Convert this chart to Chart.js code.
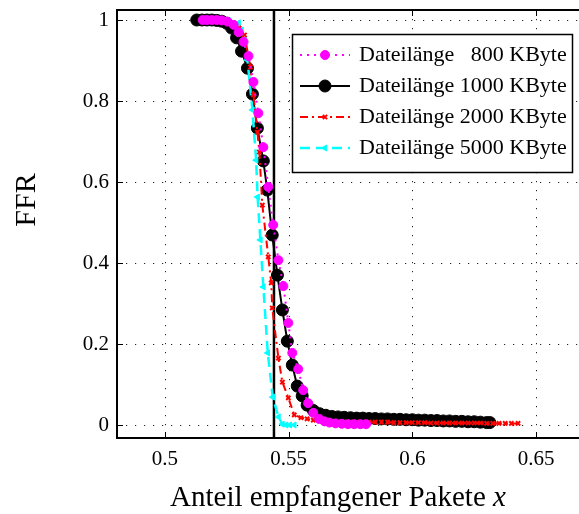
<!DOCTYPE html>
<html><head><meta charset="utf-8">
<script src="https://cdn.jsdelivr.net/npm/chart.js@4.4.1/dist/chart.umd.min.js"></script>
<style>
html,body{margin:0;padding:0;background:#fff;overflow:hidden;}
#wrap{position:absolute;left:0;top:0;width:595px;height:514px;}
</style></head><body>
<div id="wrap"><canvas id="c" width="595" height="514"></canvas></div>
<script>
// ---------- data ----------
const seriesSizes = ['800', '1000', '2000', '5000'];
const seriesLabels = seriesSizes.map(s => 'Dateilänge ' + s + ' KByte');

const x800 = [0.5153,0.5170,0.5190,0.5210,0.5230,0.5253,0.5278,0.5298,0.5318,0.5338,0.5358,0.5378,0.5398,0.5418,0.5438,0.5459,0.5479,0.5499,0.5515,0.5539,0.5559,0.5579,0.5600,0.5624,0.5645,0.5665,0.5690,0.5715,0.5740,0.5765,0.5790,0.5813];
const y800 = [1.000,1.000,1.000,1.000,0.999,0.996,0.988,0.970,0.946,0.911,0.847,0.770,0.686,0.588,0.494,0.407,0.343,0.252,0.178,0.138,0.086,0.054,0.030,0.015,0.009,0.006,0.004,0.003,0.002,0.002,0.002,0.002];

const x1000 = [0.5129,0.5150,0.5170,0.5190,0.5210,0.5230,0.5250,0.5270,0.5290,0.5310,0.5334,0.5354,0.5374,0.5398,0.5414,0.5434,0.5455,0.5475,0.5495,0.5515,0.5535,0.5555,0.5575,0.5600,0.5625,0.5650,0.5675,0.5700,0.5725,0.5750,0.5775,0.5800,0.5825,0.5850,0.5875,0.5900,0.5925,0.5950,0.5975,0.6000,0.6025,0.6050,0.6075,0.6100,0.6125,0.6150,0.6175,0.6200,0.6225,0.6250,0.6275,0.6300,0.6313];
const y1000 = [1.000,1.000,1.000,1.000,0.999,0.997,0.992,0.980,0.956,0.923,0.881,0.817,0.733,0.652,0.580,0.469,0.370,0.284,0.207,0.148,0.096,0.072,0.049,0.036,0.028,0.024,0.021,0.020,0.019,0.018,0.017,0.017,0.016,0.016,0.015,0.015,0.014,0.014,0.013,0.013,0.012,0.012,0.011,0.011,0.010,0.010,0.009,0.009,0.008,0.008,0.007,0.006,0.006];

const x2000 = [0.5160,0.5200,0.5240,0.5280,0.5300,0.5322,0.5346,0.5358,0.5374,0.5382,0.5394,0.5418,0.5430,0.5434,0.5459,0.5475,0.5499,0.5523,0.5550,0.5575,0.5600,0.5625,0.5650,0.5675,0.5700,0.5725,0.5750,0.5775,0.5800,0.5825,0.5850,0.5875,0.5900,0.5925,0.5950,0.5975,0.6000,0.6025,0.6050,0.6075,0.6100,0.6125,0.6150,0.6175,0.6200,0.6225,0.6250,0.6275,0.6300,0.6325,0.6350,0.6375,0.6400,0.6427];
const y2000 = [1.000,1.000,0.997,0.988,0.980,0.963,0.884,0.815,0.723,0.674,0.543,0.415,0.351,0.289,0.165,0.106,0.067,0.025,0.018,0.015,0.012,0.010,0.009,0.009,0.008,0.008,0.008,0.007,0.007,0.007,0.007,0.007,0.007,0.006,0.006,0.006,0.006,0.006,0.006,0.005,0.005,0.005,0.005,0.005,0.005,0.005,0.005,0.005,0.004,0.004,0.004,0.004,0.004,0.004];

const x5000 = [0.5170,0.5220,0.5260,0.5298,0.5310,0.5322,0.5334,0.5354,0.5369,0.5375,0.5386,0.5398,0.5416,0.5436,0.5459,0.5475,0.5490,0.5505,0.5523];
const y5000 = [1.000,1.000,0.998,0.993,0.975,0.951,0.901,0.778,0.654,0.563,0.457,0.341,0.178,0.069,0.020,0.002,0.000,0.000,0.000];

const thresholdX = 0.5441;

const xTicks = [0.5, 0.55, 0.6, 0.65];
const xTickLabels = ['0.5', '0.55', '0.6', '0.65'];
const yTicks = [0, 0.2, 0.4, 0.6, 0.8, 1];
const yTickLabels = ['0', '0.2', '0.4', '0.6', '0.8', '1'];
const xRange = [0.48069, 0.67096];
const yRange = [-0.0321, 1.0247];

const xTitle = 'Anteil empfangener Pakete ';
const xTitleVar = 'x';
const yTitle = 'FFR';

// ---------- build ----------
function pts(xs, ys) {
  const n = Math.min(xs.length, ys.length);
  const out = [];
  for (let i = 0; i < n; i++) out.push({x: xs[i], y: ys[i]});
  return out;
}
const SERIF = '"Liberation Serif", "Times New Roman", serif';

const datasets = [
  { label: seriesLabels[0], data: pts(x800, y800), order: 0,
    borderColor: '#ff00ff', borderWidth: 2, borderDash: [2, 5],
    pointStyle: 'circle', pointRadius: 4.5, pointBackgroundColor: '#ff00ff', pointBorderColor: '#ff00ff', pointBorderWidth: 1 },
  { label: seriesLabels[1], data: pts(x1000, y1000), order: 3,
    borderColor: '#000000', borderWidth: 2, borderDash: [],
    pointStyle: 'circle', pointRadius: 6, pointBackgroundColor: '#000000', pointBorderColor: '#000000', pointBorderWidth: 1 },
  { label: seriesLabels[2], data: pts(x2000, y2000), order: 1,
    borderColor: '#ff0000', borderWidth: 2, borderDash: [8, 4, 2, 4],
    pointStyle: 'crossRot', pointRadius: 3, pointBackgroundColor: '#ff0000', pointBorderColor: '#ff0000', pointBorderWidth: 2 },
  { label: seriesLabels[3], data: pts(x5000, y5000), order: 2,
    borderColor: '#00ffff', borderWidth: 2.5, borderDash: [10, 6],
    pointStyle: 'triangle', pointRotation: -90, pointRadius: 3.5, pointBackgroundColor: '#00ffff', pointBorderColor: '#00ffff', pointBorderWidth: 1 },
  { label: 'threshold', data: [{x: thresholdX, y: yRange[0]}, {x: thresholdX, y: yRange[1]}], order: 4,
    borderColor: '#000000', borderWidth: 2.5, pointRadius: 0 }
];
datasets.forEach(d => { d.showLine = true; d.tension = 0; d.fill = false; });

const axesPlugin = {
  id: 'matlabAxes',
  beforeDatasetsDraw(chart) {
    const {ctx, chartArea: a, scales: {x, y}} = chart;
    ctx.save();
    ctx.strokeStyle = '#222'; ctx.lineWidth = 1; ctx.setLineDash([1.2, 7.8]);
    xTicks.forEach(v => {
      const px = Math.round(x.getPixelForValue(v)) + 0.5;
      ctx.beginPath(); ctx.moveTo(px, a.top); ctx.lineTo(px, a.bottom); ctx.stroke();
    });
    yTicks.forEach(v => {
      const py = Math.round(y.getPixelForValue(v)) + 0.5;
      ctx.beginPath(); ctx.moveTo(a.left, py); ctx.lineTo(a.right, py); ctx.stroke();
    });
    ctx.restore();
  },
  afterDatasetsDraw(chart) {
    const {ctx, chartArea: a, scales: {x, y}} = chart;
    ctx.save();
    ctx.setLineDash([]);
    ctx.strokeStyle = '#000'; ctx.lineWidth = 1;
    const tl = 6;
    xTicks.forEach(v => {
      const px = Math.round(x.getPixelForValue(v)) + 0.5;
      ctx.beginPath(); ctx.moveTo(px, a.bottom); ctx.lineTo(px, a.bottom - tl); ctx.stroke();
      ctx.beginPath(); ctx.moveTo(px, a.top); ctx.lineTo(px, a.top + tl); ctx.stroke();
    });
    yTicks.forEach(v => {
      const py = Math.round(y.getPixelForValue(v)) + 0.5;
      ctx.beginPath(); ctx.moveTo(a.left, py); ctx.lineTo(a.left + tl, py); ctx.stroke();
      ctx.beginPath(); ctx.moveTo(a.right, py); ctx.lineTo(a.right - tl, py); ctx.stroke();
    });
    ctx.lineWidth = 2;
    ctx.strokeRect(a.left, a.top, a.right - a.left, a.bottom - a.top);
    ctx.restore();
  },
  afterDraw(chart) {
    const ctx = chart.ctx;
    ctx.save();
    // legend
    ctx.fillStyle = '#fff'; ctx.fillRect(292, 34, 281, 139);
    ctx.strokeStyle = '#000'; ctx.lineWidth = 1.5; ctx.setLineDash([]);
    ctx.strokeRect(292.5, 34.5, 280, 138);
    ctx.font = '22px ' + SERIF;
    const wPre = ctx.measureText('Dateilänge ').width;
    const wNum = ctx.measureText('0000').width;
    for (let row = 0; row < 4; row++) {
      const ds = chart.data.datasets[row];
      const yy = 55 + row * 31;
      ctx.save();
      ctx.strokeStyle = ds.borderColor; ctx.lineWidth = ds.borderWidth;
      ctx.setLineDash(ds.borderDash || []);
      ctx.beginPath(); ctx.moveTo(300, yy); ctx.lineTo(350, yy); ctx.stroke();
      ctx.setLineDash([]);
      ctx.fillStyle = ds.pointBackgroundColor; ctx.strokeStyle = ds.pointBorderColor; ctx.lineWidth = ds.pointBorderWidth;
      Chart.helpers.drawPoint(ctx, {pointStyle: ds.pointStyle, radius: ds.pointRadius, rotation: ds.pointRotation || 0, borderWidth: ds.pointBorderWidth}, 325, yy);
      ctx.restore();
      ctx.fillStyle = '#000'; ctx.font = '22px ' + SERIF; ctx.textBaseline = 'middle';
      ctx.textAlign = 'left'; ctx.fillText('Dateilänge', 359, yy);
      ctx.textAlign = 'right'; ctx.fillText(seriesSizes[row], 359 + wPre + wNum, yy);
      ctx.textAlign = 'left'; ctx.fillText(' KByte', 359 + wPre + wNum, yy);
    }
    // x title
    ctx.fillStyle = '#000'; ctx.textBaseline = 'alphabetic'; ctx.textAlign = 'left';
    ctx.font = '29px ' + SERIF;
    const w1 = ctx.measureText(xTitle).width;
    ctx.font = 'italic 29px ' + SERIF;
    const w2 = ctx.measureText(xTitleVar).width;
    const sx = 338 - (w1 + w2) / 2;
    ctx.font = '29px ' + SERIF; ctx.fillText(xTitle, sx, 506);
    ctx.font = 'italic 29px ' + SERIF; ctx.fillText(xTitleVar, sx + w1, 506);
    // y title
    ctx.translate(35, 200); ctx.rotate(-Math.PI / 2);
    ctx.font = '30px ' + SERIF; ctx.textAlign = 'center';
    ctx.fillText(yTitle, 0, 0);
    ctx.restore();
  }
};

new Chart(document.getElementById('c'), {
  type: 'scatter',
  data: { datasets },
  options: {
    responsive: false, animation: false, devicePixelRatio: 1,
    layout: { padding: { left: 0, top: 10, right: 5, bottom: 0 } },
    plugins: { legend: { display: false }, tooltip: { enabled: false } },
    scales: {
      x: { type: 'linear', min: xRange[0], max: xRange[1],
        grid: { display: false, drawTicks: false }, border: { display: false },
        afterBuildTicks: s => { s.ticks = xTicks.map(v => ({ value: v })); },
        afterFit: s => { s.height = 76; s.paddingLeft = 0; s.paddingRight = 0; s.paddingTop = 0; s.paddingBottom = 0; },
        ticks: { autoSkip: false, maxRotation: 0, padding: 9, color: '#000',
          font: { family: SERIF, size: 21 },
          callback: v => xTickLabels[xTicks.indexOf(v)] } },
      y: { type: 'linear', min: yRange[0], max: yRange[1],
        grid: { display: false, drawTicks: false }, border: { display: false },
        afterBuildTicks: s => { s.ticks = yTicks.map(v => ({ value: v })); },
        afterFit: s => { s.width = 117; s.paddingTop = 0; s.paddingBottom = 0; s.paddingLeft = 0; s.paddingRight = 0; },
        ticks: { autoSkip: false, padding: 8, color: '#000',
          font: { family: SERIF, size: 21 },
          callback: v => yTickLabels[yTicks.indexOf(v)] } }
    }
  },
  plugins: [axesPlugin]
});
</script>
</body></html>
